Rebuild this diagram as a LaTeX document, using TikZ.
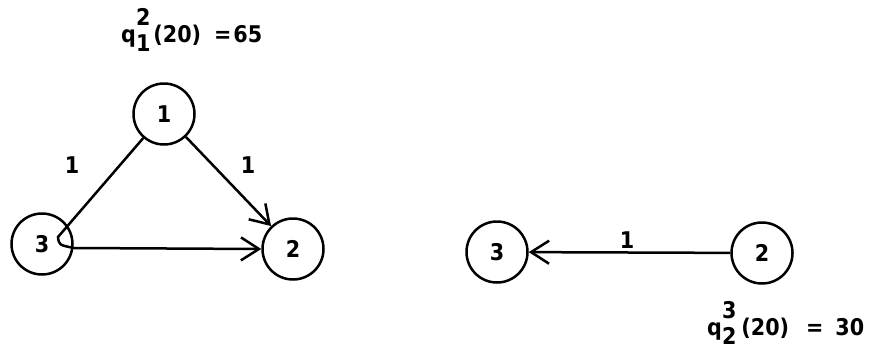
\documentclass[tikz,border=0pt]{standalone}
\usepackage{fontspec}
\setmainfont{DejaVu Sans Condensed}
\usetikzlibrary{arrows.meta}
\newcommand\qlab[2]{q\rlap{\raisebox{0.72em}{#1}}\raisebox{-0.42em}{#2}}
\begin{document}
\begin{tikzpicture}[x=1pt,y=-1pt,
  vert/.style={circle,draw,line width=2.5pt,minimum size=61pt,inner sep=0pt,font=\fontsize{23}{28}\selectfont\bfseries},
  edge/.style={line width=2.5pt},
  arr/.style={edge,-{Straight Barb[length=18pt,width=23pt,line width=2.5pt]}},
  lab/.style={font=\fontsize{23}{28}\selectfont\bfseries},
  ttl/.style={font=\fontsize{23}{28}\selectfont\bfseries,inner sep=0pt,anchor=base west}]
\useasboundingbox (0,0) rectangle (874,351);
% left graph
\node[vert] (a1) at (164,114) {1};
\node[vert] (a3) at (42,244) {3};
\node[vert] (a2) at (293,249) {2};
\coordinate (h) at (58,237);
\coordinate (hk) at (74,248);
\draw[edge] (a1) -- (h) .. controls (59,245) .. (hk);
\draw[arr] (hk) -- (a2.west);
\draw[arr] (a1) -- (a2);
\node[lab] (l1) at (72,165) {1};
\node[lab] (l2) at (248,165) {1};
\node[ttl] (t1) at (121,42) {\qlab{2}{1}\hspace{3pt}(20)\hspace{13pt}=\hspace{2pt}65};
% right graph
\node[vert] (b3) at (497,252) {3};
\node[vert] (b2) at (762,253) {2};
\draw[arr] (b2) -- (b3);
\node[lab] (l3) at (627,240) {1};
\node[ttl] (t2) at (707,335) {\qlab{3}{2}\hspace{5pt}(20)\hspace{17pt}=\hspace{12pt}30};
\end{tikzpicture}
\end{document}
